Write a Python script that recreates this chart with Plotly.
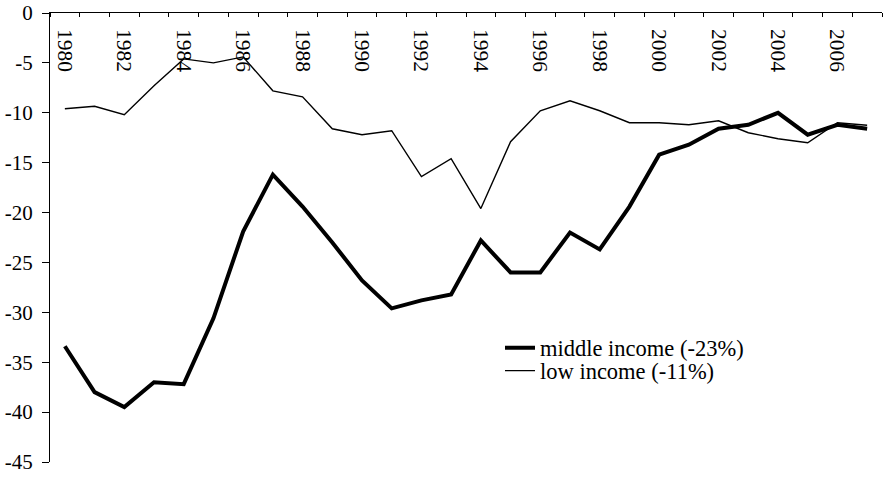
import plotly.graph_objects as go

years = list(range(1980, 2008))
middle_income = [-33.4, -38.0, -39.5, -37.0, -37.2, -30.6, -21.9, -16.2, -19.4, -23.0,
                 -26.8, -29.6, -28.8, -28.2, -22.8, -26.0, -26.0, -22.0, -23.7, -19.4,
                 -14.2, -13.2, -11.6, -11.2, -10.0, -12.2, -11.2, -11.6]
low_income = [-9.6, -9.35, -10.2, -7.3, -4.6, -5.0, -4.4, -7.8, -8.4, -11.6,
              -12.2, -11.8, -16.4, -14.6, -19.6, -12.9, -9.8, -8.8, -9.8, -11.0,
              -11.0, -11.2, -10.8, -12.0, -12.6, -13.0, -11.0, -11.25]
label_years = list(range(1980, 2008, 2))
y_ticks = list(range(0, -50, -5))

FONT = "Liberation Serif"

fig = go.Figure()
fig.add_trace(go.Scatter(x=years, y=low_income, mode="lines", name="low income (-11%)",
                         line=dict(color="black", width=1.4), legend="legend2"))
fig.add_trace(go.Scatter(x=years, y=middle_income, mode="lines", name="middle income (-23%)",
                         line=dict(color="black", width=4), legend="legend"))
# invisible helper trace so the label axis is drawn
fig.add_trace(go.Scatter(x=[years[0]], y=[middle_income[0]], xaxis="x2", mode="lines",
                         line=dict(width=0), opacity=0, showlegend=False, hoverinfo="skip"))

W, H = 883, 481
L, R, T, B = 50, 1, 13, 19
pw = W - L - R
ph = H - T - B

def px_to_paper_x(px):
    return (px - L) / pw

def px_to_paper_y(py):
    return (H - B - py) / ph

fig.update_layout(
    template="none",
    width=W, height=H,
    margin=dict(l=L, r=R, t=T, b=B),
    plot_bgcolor="white", paper_bgcolor="white",
    font=dict(family=FONT, color="black", size=21),
    showlegend=True,
    legend=dict(x=px_to_paper_x(500), y=px_to_paper_y(348), xanchor="left", yanchor="middle",
                bgcolor="rgba(0,0,0,0)", font=dict(size=22.5, family=FONT, color="black")),
    legend2=dict(x=px_to_paper_x(500), y=px_to_paper_y(371), xanchor="left", yanchor="middle",
                 bgcolor="rgba(0,0,0,0)", font=dict(size=22.5, family=FONT, color="black")),
    xaxis=dict(
        range=[1979.5, 2007.5], side="top", showgrid=False, zeroline=False, automargin=False,
        showline=True, linecolor="black", linewidth=1,
        tickmode="array", tickvals=label_years, showticklabels=False,
        ticks="",
        minor=dict(tick0=1979.5, dtick=1, ticks="inside", ticklen=4, tickcolor="black", showgrid=False),
    ),
    xaxis2=dict(
        range=[1979.5, 2007.5], overlaying="x", side="bottom", anchor="free",
        position=px_to_paper_y(16), showgrid=False, zeroline=False, automargin=False,
        showline=False, ticks="",
        tickmode="array", tickvals=label_years, ticktext=[str(y) for y in label_years],
        tickangle=90, tickfont=dict(size=21.5, family=FONT, color="black"),
        ticklabelstandoff=12,
    ),
    yaxis=dict(
        range=[-45, 0], showgrid=False, zeroline=False, automargin=False,
        showline=True, linecolor="black", linewidth=1,
        tickmode="array", tickvals=y_ticks, ticktext=[str(v) for v in y_ticks],
        ticks="outside", ticklen=7, tickcolor="black",
        tickfont=dict(size=21, family=FONT, color="black"),
        ticklabelstandoff=5,
    ),
)

fig.write_html("out.html", config={"displayModeBar": False},
               post_script="document.body.style.margin='0';")
